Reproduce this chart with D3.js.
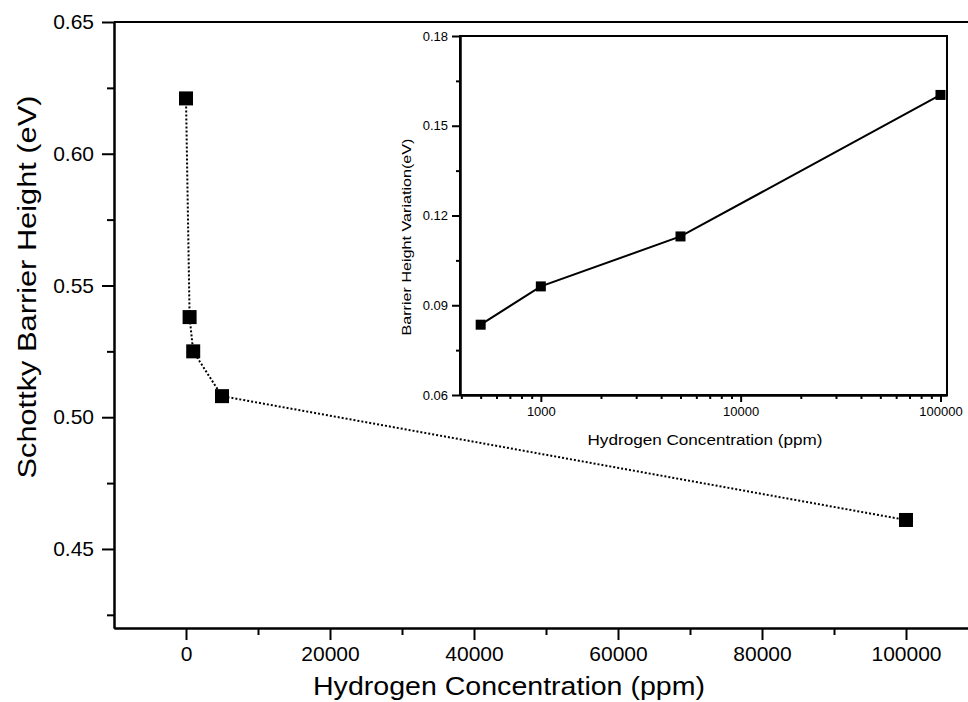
<!DOCTYPE html>
<html>
<head>
<meta charset="utf-8">
<script src="https://cdn.jsdelivr.net/npm/d3@7"></script>
<style>
  body { margin: 0; background: #fff; }
  svg { display: block; font-family: "Liberation Sans", Arial, sans-serif; }
  .axis path, .axis line { stroke: #000; stroke-width: 2; }
  .axis text { fill: #000; }
</style>
</head>
<body>
<div class="chart"></div>
<script>
  // main plot data
  var mainConc = [0, 500, 1000, 5000, 100000];
  var mainBarrier = [0.621, 0.538, 0.525, 0.508, 0.461];
  var mainXTicks = [0, 20000, 40000, 60000, 80000, 100000];
  var mainXMinor = [10000, 30000, 50000, 70000, 90000];
  var mainYTicks = [0.45, 0.50, 0.55, 0.60, 0.65];
  var mainYMinor = [0.425, 0.475, 0.525, 0.575, 0.625];

  // inset data
  var insetConc = [500, 1000, 5000, 100000];
  var insetVariation = [0.0835, 0.0963, 0.113, 0.1603];
  var insetXTicks = [1000, 10000, 100000];
  var insetYTicks = [0.06, 0.09, 0.12, 0.15, 0.18];
  var insetYMinor = [0.075, 0.105, 0.135, 0.165];

  var width = 968, height = 702;

  var svg = d3.select('.chart')
      .append('svg')
      .attr('width', width)
      .attr('height', height);

  var x = d3.scaleLinear().domain([-10000, 110000]).range([114, 978]);
  var y = d3.scaleLinear().domain([0.42, 0.65]).range([628, 22]);

  // minor ticks first, then major with labels
  svg.append('g').attr('class', 'axis')
      .attr('transform', 'translate(0,' + y(0.42) + ')')
      .call(d3.axisBottom(x).tickValues(mainXMinor).tickSize(7).tickSizeOuter(0).tickFormat(''));
  svg.append('g').attr('class', 'axis')
      .attr('transform', 'translate(0,' + y(0.42) + ')')
      .call(d3.axisBottom(x).tickValues(mainXTicks).tickSize(12).tickSizeOuter(0).tickPadding(6).tickFormat(d3.format('d')))
      .selectAll('text')
      .attr('font-size', 21);

  svg.append('g').attr('class', 'axis')
      .attr('transform', 'translate(' + x(-10000) + ',0)')
      .call(d3.axisLeft(y).tickValues(mainYMinor).tickSize(7).tickSizeOuter(0).tickFormat(''));
  svg.append('g').attr('class', 'axis')
      .attr('transform', 'translate(' + x(-10000) + ',0)')
      .call(d3.axisLeft(y).tickValues(mainYTicks).tickSize(12).tickSizeOuter(0).tickPadding(8).tickFormat(d3.format('.2f')))
      .selectAll('text')
      .attr('font-size', 21);

  // top frame line
  svg.append('line')
      .attr('x1', x(-10000)).attr('x2', width)
      .attr('y1', y(0.65)).attr('y2', y(0.65))
      .attr('stroke', '#000').attr('stroke-width', 2);

  svg.append('text')
      .attr('x', 509).attr('y', 695)
      .attr('text-anchor', 'middle')
      .attr('font-size', 26)
      .attr('textLength', 392).attr('lengthAdjust', 'spacingAndGlyphs')
      .text('Hydrogen Concentration (ppm)');

  svg.append('text')
      .attr('transform', 'translate(36,287) rotate(-90)')
      .attr('text-anchor', 'middle')
      .attr('font-size', 26)
      .attr('textLength', 383).attr('lengthAdjust', 'spacingAndGlyphs')
      .text('Schottky Barrier Height (eV)');

  var mainPts = mainConc.map(function(c, i) { return {c: c, v: mainBarrier[i]}; });

  svg.append('path')
      .datum(mainPts)
      .attr('fill', 'none')
      .attr('stroke', '#000')
      .attr('stroke-width', 2)
      .attr('stroke-dasharray', '2,2')
      .attr('d', d3.line().x(function(d) { return x(d.c); }).y(function(d) { return y(d.v); }));

  svg.selectAll('rect.main')
      .data(mainPts)
      .enter().append('rect')
      .attr('class', 'main')
      .attr('width', 14).attr('height', 14)
      .attr('x', function(d) { return x(d.c) - 7; })
      .attr('y', function(d) { return y(d.v) - 7; })
      .attr('fill', '#000');

  // inset
  var ix = d3.scaleLog().domain([394, 107800]).range([460, 947]);
  var iy = d3.scaleLinear().domain([0.06, 0.18]).range([395, 36]);

  var inset = svg.append('g');

  inset.append('rect')
      .attr('x', 460).attr('y', 36)
      .attr('width', 947 - 460).attr('height', 395 - 36)
      .attr('fill', '#fff').attr('stroke', '#000').attr('stroke-width', 2);

  var logMinor = [];
  [100, 1000, 10000].forEach(function(b) {
    for (var k = 2; k <= 9; k++) {
      var v = b * k;
      if (v > 394 && v < 107800 && insetXTicks.indexOf(v) < 0) logMinor.push(v);
    }
  });

  inset.append('g').attr('class', 'axis')
      .attr('transform', 'translate(0,395)')
      .call(d3.axisBottom(ix).tickValues(logMinor).tickSize(4).tickSizeOuter(0).tickFormat(''));
  inset.append('g').attr('class', 'axis')
      .attr('transform', 'translate(0,395)')
      .call(d3.axisBottom(ix).tickValues(insetXTicks).tickSize(7).tickSizeOuter(0).tickPadding(5).tickFormat(d3.format('d')))
      .selectAll('text')
      .attr('font-size', 13);

  inset.append('g').attr('class', 'axis')
      .attr('transform', 'translate(460,0)')
      .call(d3.axisLeft(iy).tickValues(insetYMinor).tickSize(4).tickSizeOuter(0).tickFormat(''));
  inset.append('g').attr('class', 'axis')
      .attr('transform', 'translate(460,0)')
      .call(d3.axisLeft(iy).tickValues(insetYTicks).tickSize(8).tickSizeOuter(0).tickPadding(4).tickFormat(d3.format('.2f')))
      .selectAll('text')
      .attr('font-size', 13);

  inset.append('text')
      .attr('x', 705).attr('y', 445)
      .attr('text-anchor', 'middle')
      .attr('font-size', 14)
      .attr('textLength', 235).attr('lengthAdjust', 'spacingAndGlyphs')
      .text('Hydrogen Concentration (ppm)');

  inset.append('text')
      .attr('transform', 'translate(411,237) rotate(-90)')
      .attr('text-anchor', 'middle')
      .attr('font-size', 12)
      .attr('textLength', 197).attr('lengthAdjust', 'spacingAndGlyphs')
      .text('Barrier Height  Variation(eV)');

  var insetPts = insetConc.map(function(c, i) { return {c: c, v: insetVariation[i]}; });

  inset.append('path')
      .datum(insetPts)
      .attr('fill', 'none')
      .attr('stroke', '#000')
      .attr('stroke-width', 2)
      .attr('d', d3.line().x(function(d) { return ix(d.c); }).y(function(d) { return iy(d.v); }));

  inset.selectAll('rect.pt')
      .data(insetPts)
      .enter().append('rect')
      .attr('class', 'pt')
      .attr('width', 10).attr('height', 10)
      .attr('x', function(d) { return ix(d.c) - 5; })
      .attr('y', function(d) { return iy(d.v) - 5; })
      .attr('fill', '#000');
</script>
</body>
</html>
